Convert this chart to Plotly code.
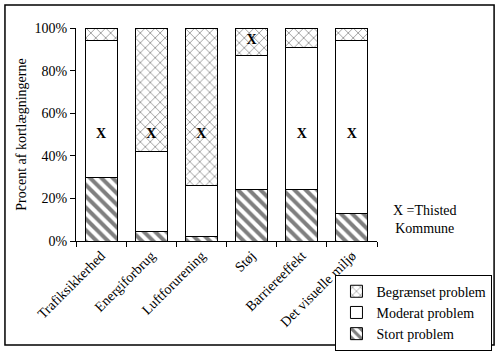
import plotly.graph_objects as go

categories = ["Trafiksikkerhed", "Energiforbrug", "Luftforurening", "Støj", "Barriereeffekt", "Det visuelle miljø"]
stort = [30, 4.5, 2, 24, 24, 13]
moderat = [64, 37.5, 24, 63, 67, 81]
begraenset = [6, 58, 74, 13, 9, 6]
thisted_pos = [50, 50, 50, 94, 50, 50]
yticks = [0, 20, 40, 60, 80, 100]
yticklabels = ["0%", "20%", "40%", "60%", "80%", "100%"]

FONT = "Liberation Serif"
FS = 14
fig = go.Figure()
fig.add_trace(go.Bar(x=categories, y=stort, name="Stort problem",
                     marker=dict(color="white", line=dict(color="black", width=1),
                                 pattern=dict(shape="\\", fgcolor="black", bgcolor="white", size=8, solidity=0.5))))
fig.add_trace(go.Bar(x=categories, y=moderat, name="Moderat problem",
                     marker=dict(color="white", line=dict(color="black", width=1))))
fig.add_trace(go.Bar(x=categories, y=begraenset, name="Begrænset problem",
                     marker=dict(color="white", line=dict(color="black", width=1),
                                 pattern=dict(shape="x", fgcolor="black", bgcolor="white", size=7, solidity=0.2))))
fig.add_trace(go.Scatter(x=categories, y=thisted_pos, mode="text", text=["<b>X</b>"] * len(categories),
                         textfont=dict(family=FONT, size=FS, color="black"), showlegend=False, hoverinfo="skip"))

fig.update_layout(
    barmode="stack", bargap=0.36,
    width=497, height=351,
    margin=dict(l=76, r=120, t=28, b=110, autoexpand=False),
    paper_bgcolor="white", plot_bgcolor="white",
    font=dict(family=FONT, size=FS, color="black"),
    legend=dict(traceorder="reversed", x=0.862, y=-0.158, xanchor="left", yanchor="top",
                bordercolor="black", borderwidth=1, font=dict(family=FONT, size=FS),
                itemwidth=30, tracegroupgap=0),
    xaxis=dict(showline=True, linecolor="black", linewidth=1, ticks="outside", tickson="boundaries",
               ticklen=5, tickcolor="black", tickangle=-45, showgrid=False,
               tickfont=dict(family=FONT, size=FS)),
    yaxis=dict(range=[0, 100], tickvals=yticks, ticktext=yticklabels, showline=True, linecolor="black",
               linewidth=1, ticks="outside", ticklen=5, tickcolor="black", showgrid=False, zeroline=False,
               title=dict(text="Procent af kortlægningerne", font=dict(family=FONT, size=FS), standoff=4),
               tickfont=dict(family=FONT, size=FS)),
    shapes=[dict(type="rect", xref="paper", yref="paper", x0=-0.236, x1=1.389, y0=-0.488, y1=1.108,
                 line=dict(color="black", width=1.5))],
    annotations=[dict(text="X =Thisted<br>Kommune", xref="paper", yref="paper", x=1.16, y=0.099,
                      xanchor="center", yanchor="middle",
                      showarrow=False, font=dict(family=FONT, size=FS), align="center")],
)
fig.write_html("out.html")
